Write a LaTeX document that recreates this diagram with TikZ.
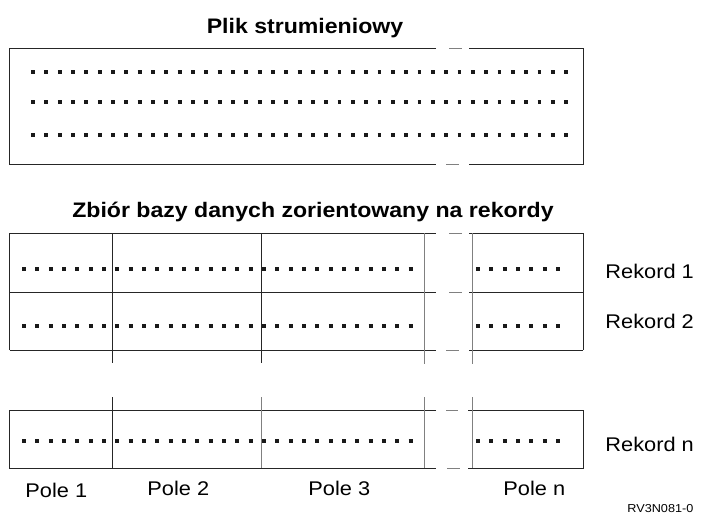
\documentclass[tikz,border=0pt]{standalone}
\usepackage{fontspec}
\setmainfont{Liberation Sans}[FakeStretch=1.1]

\begin{document}
\begin{tikzpicture}[x=1pt,y=-1pt,line width=0.9pt,
  frame/.style={draw=black!85},
  sep/.style={draw=black!50},
  dotrow/.style={draw=black!90,line width=3.8pt,dash pattern=on 3.8pt off 9.53pt},
  title/.style={font=\fontsize{21}{24}\selectfont\bfseries,anchor=base,inner sep=0pt},
  lbl/.style={font=\fontsize{19.8}{22}\selectfont,anchor=base west,inner sep=0pt}]
\useasboundingbox (0,0) rectangle (708,514);

% stream file
\node[title] (plik) at (305,33) {Plik strumieniowy};
\draw[frame] (469,48) -- (583,48) -- (583,164) -- (469,164);
\draw[frame] (436,48) -- (9.5,48) -- (9.5,164) -- (436,164);
\draw[sep] (449,48) -- (462,48);
\draw[sep] (446,164) -- (459,164);
\foreach \y in {72,102,135}
  \draw[dotrow] (31.1,\y) -- (568.2,\y);

% record oriented file
\node[title] (zbior) at (313,217) {Zbiór bazy danych zorientowany na rekordy};
\foreach \y in {233,292,350}{
  \draw[frame] (9.5,\y) -- (436,\y);
  \draw[frame] (469,\y) -- (583,\y);
}
\draw[sep] (449,233) -- (462,233);
\draw[sep] (449,292) -- (462,292);
\draw[sep] (446,350) -- (459,350);
\draw[frame] (9.5,233) -- (9.5,350);
\draw[frame] (583,233) -- (583,350);
\draw[frame] (112,233) -- (112,363);
\draw[frame] (261,233) -- (261,363);
\draw[sep] (424,233) -- (424,364);
\draw[sep] (472,233) -- (472,364);

% last record
\draw[frame] (436,410) -- (9.5,410) -- (9.5,468) -- (436,468);
\draw[frame] (468,410) -- (583,410) -- (583,468) -- (468,468);
\draw[sep] (446,410) -- (458,410);
\draw[sep] (447,468) -- (460,468);
\draw[frame] (112,397) -- (112,468);
\draw[sep] (261,397) -- (261,468);
\draw[sep] (424,397) -- (424,468);
\draw[sep] (472,397) -- (472,468);

% field contents
\foreach \y in {269,326,441}{
  \draw[dotrow] (22.1,\y) -- (105.9,\y);
  \draw[dotrow] (115.4,\y) -- (252.5,\y);
  \draw[dotrow] (262.1,\y) -- (412.6,\y);
  \draw[dotrow] (476.1,\y) -- (559.9,\y);
}

\node[lbl] (rek1) at (605,278) {Rekord 1};
\node[lbl] (rek2) at (605,328) {Rekord 2};
\node[lbl] (rekn) at (605,451) {Rekord n};

\node[lbl] (pole1) at (25,497.5) {Pole 1};
\node[lbl] (pole2) at (147,495) {Pole 2};
\node[lbl] (pole3) at (308,495) {Pole 3};
\node[lbl] (polen) at (503,495) {Pole n};

\node[font=\fontsize{11.5}{13}\selectfont,anchor=base west,inner sep=0pt] (fig) at (627,512) {RV3N081-0};
\end{tikzpicture}
\end{document}
